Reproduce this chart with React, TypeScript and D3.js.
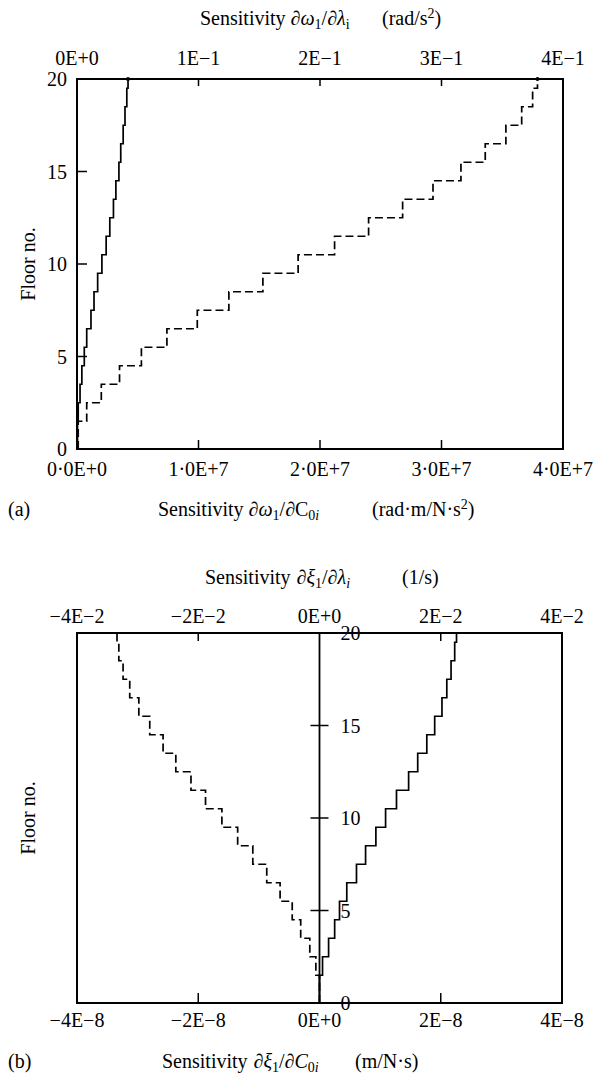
import React from "react";
import * as d3 from "d3";

// ---------- data ----------
const floors = d3.range(1, 21);

// Panel (a)
const aTopTicks = [0, 0.1, 0.2, 0.3, 0.4];
const aTopTickLabels = ["0E+0", "1E\u22121", "2E\u22121", "3E\u22121", "4E\u22121"];
const aBotTicks = [0, 1e7, 2e7, 3e7, 4e7];
const aBotTickLabels = ["0\u00B70E+0", "1\u00B70E+7", "2\u00B70E+7", "3\u00B70E+7", "4\u00B70E+7"];
// d omega1 / d lambda_i (top axis, solid)
const aLambda = [0.0004, 0.001, 0.0025, 0.004, 0.006, 0.008, 0.0115, 0.014, 0.017, 0.0205,
  0.024, 0.027, 0.03, 0.032, 0.0345, 0.036, 0.038, 0.0395, 0.041, 0.042];
// d omega1 / d C0i (bottom axis, dashed)
const aC0 = [0.01e7, 0.08e7, 0.2e7, 0.35e7, 0.53e7, 0.74e7, 0.99e7, 1.25e7, 1.53e7, 1.82e7,
  2.12e7, 2.4e7, 2.68e7, 2.93e7, 3.16e7, 3.36e7, 3.53e7, 3.66e7, 3.75e7, 3.79e7];

// Panel (b)
const bTopTicks = [-0.04, -0.02, 0, 0.02, 0.04];
const bTopTickLabels = ["\u22124E\u22122", "\u22122E\u22122", "0E+0", "2E\u22122", "4E\u22122"];
const bBotTicks = [-4e-8, -2e-8, 0, 2e-8, 4e-8];
const bBotTickLabels = ["\u22124E\u22128", "\u22122E\u22128", "0E+0", "2E\u22128", "4E\u22128"];
// d xi1 / d lambda_i (top axis, solid)
const bLambda = [0, 0.0005, 0.0015, 0.0025, 0.0033, 0.0045, 0.0061, 0.0076, 0.0093, 0.0109,
  0.0127, 0.0147, 0.0162, 0.0177, 0.019, 0.0202, 0.021, 0.0217, 0.0223, 0.0226];
// d xi1 / d C0i (bottom axis, dashed)
const bC0 = [0, -0.06e-8, -0.16e-8, -0.31e-8, -0.45e-8, -0.65e-8, -0.87e-8, -1.1e-8, -1.35e-8, -1.61e-8,
  -1.88e-8, -2.12e-8, -2.37e-8, -2.58e-8, -2.8e-8, -2.98e-8, -3.13e-8, -3.24e-8, -3.31e-8, -3.34e-8];

const yTicks = [0, 5, 10, 15, 20];
const yTickLabels = ["0", "5", "10", "15", "20"];

// ---------- helpers ----------
const FONT = "'Liberation Serif', 'Times New Roman', serif";
const FS = 20;
const SFS = 14;

function stepPath(values: number[], xs: d3.ScaleLinear<number, number>, ys: d3.ScaleLinear<number, number>) {
  const pts: [number, number][] = [[values[0], 0]];
  values.forEach((v, i) => {
    const top = Math.min(floors[i] + 0.5, 20);
    pts.push([v, top]);
  });
  const line = d3
    .line<[number, number]>()
    .x((d) => xs(d[0]))
    .y((d) => ys(d[1]))
    .curve(d3.curveStepAfter);
  return line(pts) || "";
}

function Sub({ children, italic }: { children: React.ReactNode; italic?: boolean }) {
  return (
    <tspan baselineShift="-25%" fontSize={SFS} fontStyle={italic ? "italic" : "normal"}>
      {children}
    </tspan>
  );
}

export default function App() {
  // panel (a) geometry
  const aL = 77, aR = 563, aT = 79, aB = 449;
  const aXTop = d3.scaleLinear().domain([0, 0.4]).range([aL, aR]);
  const aXBot = d3.scaleLinear().domain([0, 4e7]).range([aL, aR]);
  const aY = d3.scaleLinear().domain([0, 20]).range([aB, aT]);

  // panel (b) geometry
  const bL = 77, bR = 562, bT = 633, bB = 1003;
  const bXTop = d3.scaleLinear().domain([-0.04, 0.04]).range([bL, bR]);
  const bXBot = d3.scaleLinear().domain([-4e-8, 4e-8]).range([bL, bR]);
  const bY = d3.scaleLinear().domain([0, 20]).range([bB, bT]);
  const bX0 = bXTop(0);

  const sw = 1.7;

  return (
    <svg width={598} height={1081} style={{ display: "block", position: "absolute", left: 0, top: 0, background: "#fff" }}
      fontFamily={FONT} fontSize={FS} fill="#000">
      <rect x={0} y={0} width={598} height={1081} fill="#fff" />

      {/* ================= Panel (a) ================= */}
      <text x={200} y={25}>
        Sensitivity ∂<tspan fontStyle="italic">ω</tspan><Sub>1</Sub>
        <tspan>/∂</tspan><tspan fontStyle="italic">λ</tspan><Sub>i</Sub>
      </text>
      <text x={382} y={25}>
        (rad/s<tspan baselineShift="super" fontSize={SFS}>2</tspan><tspan>)</tspan>
      </text>
      {aTopTicks.map((t, i) => (
        <text key={"atl" + i} x={aXTop(t)} y={65} textAnchor="middle">{aTopTickLabels[i]}</text>
      ))}
      {aBotTicks.map((t, i) => (
        <text key={"abl" + i} x={aXBot(t)} y={476} textAnchor="middle">{aBotTickLabels[i]}</text>
      ))}
      {yTicks.map((t, i) => (
        <text key={"ayl" + i} x={67} y={aY(t)} textAnchor="end" dominantBaseline="central">{yTickLabels[i]}</text>
      ))}
      <text transform={`translate(28, ${(aT + aB) / 2}) rotate(-90)`} textAnchor="middle" dominantBaseline="central">Floor no.</text>
      <text x={8} y={516}>(a)</text>
      <text x={158} y={516}>
        Sensitivity ∂<tspan fontStyle="italic">ω</tspan><Sub>1</Sub>
        <tspan>/∂C</tspan><Sub>0<tspan fontStyle="italic">i</tspan></Sub>
      </text>
      <text x={372} y={516}>
        (rad·m/N·s<tspan baselineShift="super" fontSize={SFS}>2</tspan><tspan>)</tspan>
      </text>

      {/* ticks */}
      <g stroke="#000" strokeWidth={1.5}>
        {[5, 10, 15].map((t) => (
          <line key={"ayt" + t} x1={aL} x2={aL + 10} y1={aY(t)} y2={aY(t)} />
        ))}
        {[1e7, 2e7, 3e7].map((t) => (
          <line key={"abt" + t} x1={aXBot(t)} x2={aXBot(t)} y1={aB} y2={aB - 9} />
        ))}
        {[0.1, 0.2, 0.3].map((t) => (
          <line key={"att" + t} x1={aXTop(t)} x2={aXTop(t)} y1={aT} y2={aT + 7} />
        ))}
      </g>

      {/* data */}
      <path d={stepPath(aLambda, aXTop, aY)} fill="none" stroke="#000" strokeWidth={sw} />
      <path d={stepPath(aC0, aXBot, aY)} fill="none" stroke="#000" strokeWidth={sw} strokeDasharray="8,4" />
      <circle cx={aXTop(aLambda[19])} cy={aY(20)} r={2} />
      <circle cx={aXBot(aC0[19])} cy={aY(20)} r={2} />

      {/* frame */}
      <rect x={aL} y={aT} width={aR - aL} height={aB - aT} fill="none" stroke="#000" strokeWidth={2} />

      {/* ================= Panel (b) ================= */}
      <text x={205} y={584}>
        Sensitivity<tspan dx={6}>∂</tspan><tspan fontStyle="italic">ξ</tspan><Sub>1</Sub>
        <tspan>/∂</tspan><tspan fontStyle="italic">λ</tspan><Sub italic>i</Sub>
      </text>
      <text x={402} y={584}>(1/s)</text>
      {bTopTicks.map((t, i) => (
        <text key={"btl" + i} x={bXTop(t)} y={623} textAnchor="middle">{bTopTickLabels[i]}</text>
      ))}
      {bBotTicks.map((t, i) => (
        <text key={"bbl" + i} x={bXBot(t)} y={1027} textAnchor="middle">{bBotTickLabels[i]}</text>
      ))}
      <text transform={`translate(28, ${(bT + bB) / 2}) rotate(-90)`} textAnchor="middle" dominantBaseline="central">Floor no.</text>
      <text x={8} y={1068}>(b)</text>
      <text x={162} y={1068}>
        Sensitivity<tspan dx={6}>∂</tspan><tspan fontStyle="italic">ξ</tspan><Sub>1</Sub>
        <tspan>/∂</tspan><tspan fontStyle="italic">C</tspan><Sub>0<tspan fontStyle="italic">i</tspan></Sub>
      </text>
      <text x={355} y={1068}>(m/N·s)</text>

      {/* ticks */}
      <g stroke="#000" strokeWidth={1.5}>
        {[5, 10, 15].map((t) => (
          <line key={"byt" + t} x1={bX0 - 9} x2={bX0 + 9} y1={bY(t)} y2={bY(t)} />
        ))}
        {[-2e-8, 2e-8].map((t) => (
          <line key={"bbt" + t} x1={bXBot(t)} x2={bXBot(t)} y1={bB} y2={bB - 10} />
        ))}
        {[-0.02, 0.02].map((t) => (
          <line key={"btt" + t} x1={bXTop(t)} x2={bXTop(t)} y1={bT} y2={bT + 8} />
        ))}
      </g>
      {/* central axis */}
      <line x1={bX0} x2={bX0} y1={bT} y2={bB} stroke="#000" strokeWidth={1.8} />

      {/* data */}
      <path d={stepPath(bLambda, bXTop, bY)} fill="none" stroke="#000" strokeWidth={sw} />
      <path d={stepPath(bC0, bXBot, bY)} fill="none" stroke="#000" strokeWidth={sw} strokeDasharray="8,4" />

      {/* y labels on central axis */}
      {yTicks.map((t, i) => (
        <text key={"byl" + i} x={bX0 + 21} y={bY(t)} dominantBaseline="central">{yTickLabels[i]}</text>
      ))}

      {/* frame */}
      <rect x={bL} y={bT} width={bR - bL} height={bB - bT} fill="none" stroke="#000" strokeWidth={2} />
    </svg>
  );
}
